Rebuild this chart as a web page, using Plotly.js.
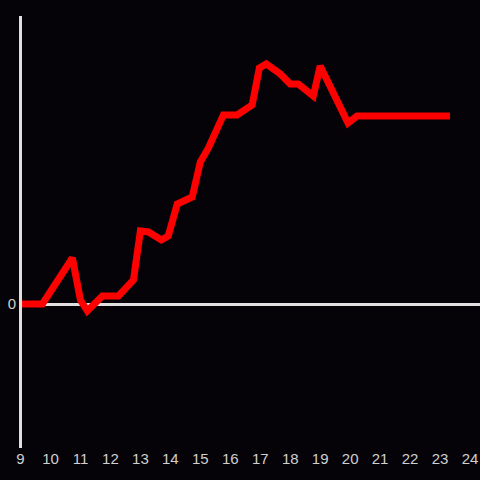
<!DOCTYPE html>
<html>
<head>
<meta charset="utf-8">
<script src="https://cdn.plot.ly/plotly-3.0.1.min.js"></script>
<style>html,body{margin:0;padding:0;background:#050307;}</style>
</head>
<body>
<div id="chart" style="width:480px;height:480px;"></div>
<script>
const hours = [9, 9.73, 10.73, 11, 11.23, 11.73, 12.27, 12.77, 13, 13.27, 13.7, 13.93, 14.23, 14.73, 15, 15.27, 15.77, 16.23, 16.73, 16.97, 17.2, 17.67, 18, 18.27, 18.77, 19, 19.93, 20.23, 23.33];
const values = [0, 0, 46, 4, -7, 8, 8, 24, 73, 72, 64, 68, 100, 107, 142, 156, 189, 189, 199, 236, 240, 230, 220, 220, 208, 238, 181, 188, 188];
const xTicks = [9,10,11,12,13,14,15,16,17,18,19,20,21,22,23,24];
const yTicks = [0];

Plotly.newPlot('chart', [{
  x: hours, y: values, type: 'scatter', mode: 'lines',
  line: {color: '#ff0000', width: 7},
  hoverinfo: 'skip'
}], {
  width: 480, height: 480,
  paper_bgcolor: '#050307', plot_bgcolor: '#050307',
  margin: {l: 20, r: 0, t: 16, b: 32, pad: 0},
  showlegend: false,
  font: {family: 'Liberation Sans, Arial, sans-serif', size: 15, color: '#d0d0d0'},
  xaxis: {range: [8.983, 24.333], tickvals: xTicks, ticktext: xTicks.map(String),
    showgrid: false, zeroline: false, showline: false, ticks: '', fixedrange: true},
  yaxis: {range: [-144, 288], tickvals: yTicks, ticktext: ['0'], ticklabelstandoff: 3,
    showgrid: false, zeroline: true, zerolinecolor: '#e0e0e0', zerolinewidth: 3,
    showline: false, ticks: '', fixedrange: true},
  shapes: [{type: 'line', xref: 'paper', yref: 'paper', x0: 0.0011, x1: 0.0011, y0: 0, y1: 1,
    line: {color: '#e0e0e0', width: 3}, layer: 'above'}]
}, {displayModeBar: false, staticPlot: true});
</script>
</body>
</html>
